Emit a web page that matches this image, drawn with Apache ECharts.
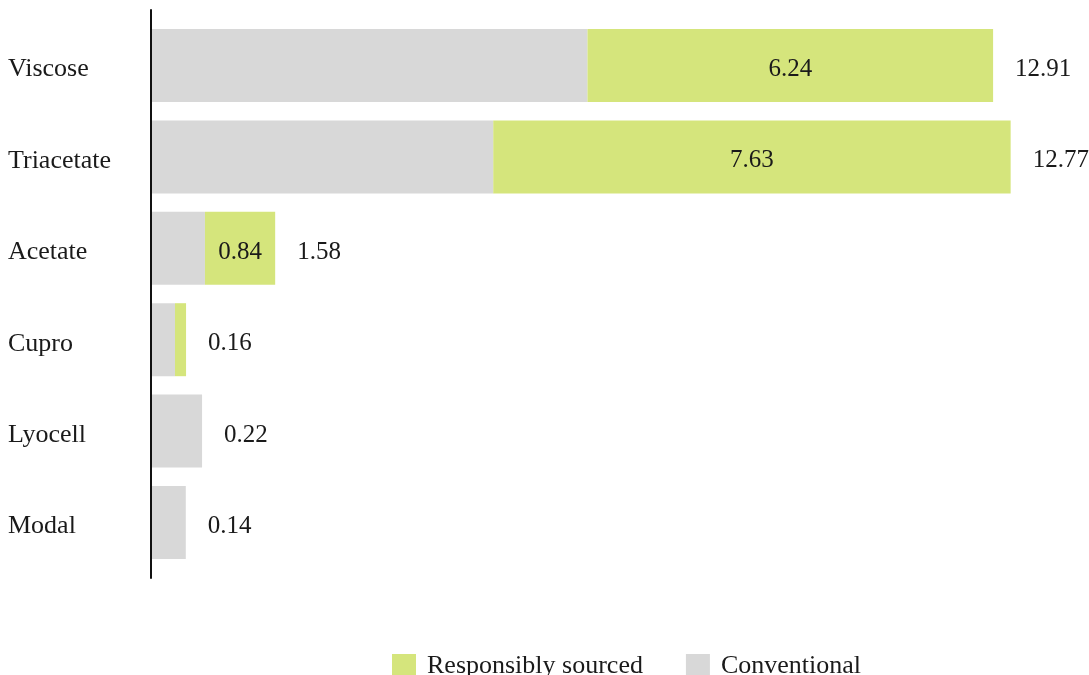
<!DOCTYPE html>
<html>
<head>
<meta charset="utf-8">
<script src="https://cdn.jsdelivr.net/npm/echarts@6/dist/echarts.min.js"></script>
<style>html,body{margin:0;padding:0;background:#fff}#c{width:1089px;height:675px}</style>
</head>
<body>
<div id="c"></div>
<script>
// Categories (top to bottom)
var categories = ['Viscose', 'Triacetate', 'Acetate', 'Cupro', 'Lyocell', 'Modal'];
// Bar lengths
var conventional = [6.70, 5.25, 0.815, 0.354, 0.77, 0.52];
var responsible  = [6.24, 7.96, 1.08, 0.17, 0, 0];
// Text labels printed in the picture
var responsibleLabels = ['6.24', '7.63', '0.84', '', '', ''];
var totalLabels = ['12.91', '12.77', '1.58', '0.16', '0.22', '0.14'];

var FONT = '"Liberation Serif", "Times New Roman", serif';
var TXT = '#1a1a1a';
var chart = echarts.init(document.getElementById('c'));

var totals = categories.map(function (c, i) { return [conventional[i] + responsible[i], c]; });

chart.setOption({
  animation: false,
  grid: [
    { left: 152, right: 27, top: 19.8, bottom: 106.8, containLabel: false },
    { left: 150.5, right: 27, top: 10, bottom: 97, containLabel: false }
  ],
  legend: {
    left: 387, top: 648,
    itemWidth: 24, itemHeight: 24, itemGap: 43,
    icon: 'rect',
    data: ['Responsibly sourced', 'Conventional'],
    textStyle: { fontFamily: FONT, fontSize: 26, color: TXT, lineHeight: 24, padding: [2, 0, 0, 6] }
  },
  xAxis: [
    { type: 'value', gridIndex: 0, min: 0, max: 14, show: false },
    { type: 'value', gridIndex: 1, min: 0, max: 14, show: false }
  ],
  yAxis: [
    {
      type: 'category', gridIndex: 0, data: categories, inverse: true,
      axisLine: { show: false }, axisTick: { show: false }, splitLine: { show: false },
      axisLabel: {
        align: 'left', margin: 144, formatter: '{a|{value}}',
        rich: { a: { fontFamily: FONT, fontSize: 26, color: TXT, padding: [8, 0, 0, 0] } }
      }
    },
    {
      type: 'category', gridIndex: 1, data: [''],
      axisLine: { show: true, lineStyle: { color: '#111', width: 2 } },
      axisTick: { show: false }, axisLabel: { show: false }, splitLine: { show: false }
    }
  ],
  series: [
    {
      name: 'Conventional', type: 'bar', stack: 's', xAxisIndex: 0, yAxisIndex: 0,
      data: conventional, barWidth: 73,
      itemStyle: { color: '#d8d8d8' }
    },
    {
      name: 'Responsibly sourced', type: 'bar', stack: 's', xAxisIndex: 0, yAxisIndex: 0,
      data: responsible, barWidth: 73,
      itemStyle: { color: '#d5e57c' },
      label: {
        show: true, position: 'inside', offset: [0, 4],
        fontFamily: FONT, fontSize: 25, color: TXT,
        formatter: function (p) { return responsibleLabels[p.dataIndex]; }
      }
    },
    {
      name: 'Total', type: 'scatter', xAxisIndex: 0, yAxisIndex: 0,
      data: totals, symbolSize: 0, silent: true,
      itemStyle: { opacity: 1 },
      label: {
        show: true, position: 'right', distance: 22, offset: [0, 4],
        fontFamily: FONT, fontSize: 25, color: TXT,
        formatter: function (p) { return totalLabels[p.dataIndex]; }
      }
    }
  ]
});
</script>
</body>
</html>
